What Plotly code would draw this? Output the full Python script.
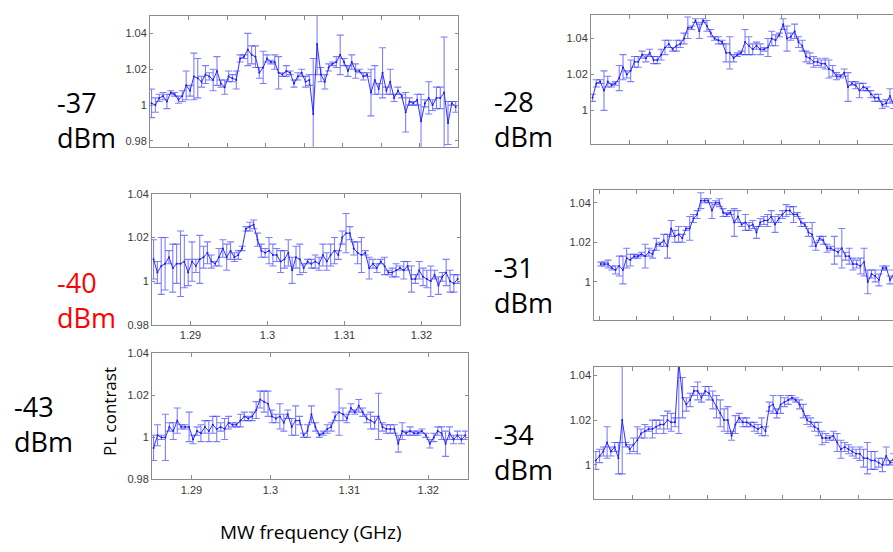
import plotly.graph_objects as go

# Microwave sweep frequencies (GHz), shared by all six power settings
freq_ghz = [
    1.2852, 1.2857, 1.2862, 1.2867, 1.2872, 1.2877, 1.2882, 1.2887, 1.2892, 1.2897,
    1.2902, 1.2907, 1.2912, 1.2917, 1.2922, 1.2927, 1.2932, 1.2937, 1.2942, 1.2947,
    1.2952, 1.2957, 1.2962, 1.2967, 1.2972, 1.2977, 1.2982, 1.2987, 1.2992, 1.2997,
    1.3002, 1.3007, 1.3012, 1.3017, 1.3022, 1.3027, 1.3032, 1.3037, 1.3042, 1.3047,
    1.3052, 1.3057, 1.3062, 1.3067, 1.3072, 1.3077, 1.3082, 1.3087, 1.3092, 1.3097,
    1.3102, 1.3107, 1.3112, 1.3117, 1.3122, 1.3127, 1.3132, 1.3137, 1.3142, 1.3147,
    1.3152, 1.3157, 1.3162, 1.3167, 1.3172, 1.3177, 1.3182, 1.3187, 1.3192, 1.3197,
    1.3202, 1.3207, 1.3212, 1.3217, 1.3222, 1.3227, 1.3232, 1.3237, 1.3242, 1.3247,
]

# PL contrast and its error for each microwave power
pl_m37 = [1.001, 1.000, 1.004, 1.005, 1.002, 1.007, 1.006, 1.003, 1.005, 1.011,
          1.008, 1.016, 1.015, 1.013, 1.017, 1.016, 1.014, 1.019, 1.012, 1.010,
          1.016, 1.015, 1.014, 1.026, 1.027, 1.031, 1.028, 1.027, 1.018, 1.021,
          1.026, 1.024, 1.024, 1.018, 1.017, 1.019, 1.018, 1.012, 1.016, 1.018,
          1.013, 1.014, 0.995, 1.034, 1.017, 1.013, 1.021, 1.023, 1.024, 1.028,
          1.024, 1.019, 1.024, 1.019, 1.019, 1.016, 1.017, 1.007, 1.014, 1.009,
          1.018, 1.008, 1.013, 1.004, 1.008, 1.005, 0.996, 1.002, 1.001, 1.003,
          0.991, 1.001, 1.004, 1.000, 1.004, 1.004, 1.007, 0.990, 1.001, 0.999]
err_m37 = [.008, .004, .002, .002, .004, .001, .001, .002, .003, .008,
           .003, .013, .011, .003, .005, .002, .006, .008, .002, .004,
           .003, .002, .005, .002, .001, .009, .005, .006, .003, .009,
           .002, .001, .004, .009, .001, .003, .001, .002, .002, .002,
           .003, .003, .031, .017, .004, .004, .002, .001, .003, .011,
           .002, .003, .004, .004, .001, .002, .001, .013, .008, .003,
           .014, .002, .007, .002, .002, .001, .011, .002, .001, .003,
           .015, .002, .009, .003, .006, .006, .031, .012, .001, .003]

pl_m40 = [1.010, 1.004, 1.007, 1.008, 1.011, 1.006, 1.008, 1.008, 1.009, 1.004,
          1.009, 1.007, 1.010, 1.011, 1.013, 1.009, 1.008, 1.011, 1.015, 1.011,
          1.014, 1.011, 1.012, 1.015, 1.024, 1.025, 1.026, 1.019, 1.014, 1.013,
          1.014, 1.012, 1.012, 1.009, 1.010, 1.013, 1.005, 1.011, 1.010, 1.006,
          1.009, 1.008, 1.009, 1.008, 1.012, 1.009, 1.012, 1.014, 1.012, 1.020,
          1.022, 1.022, 1.015, 1.013, 1.012, 1.013, 1.006, 1.008, 1.006, 1.009,
          1.007, 1.004, 1.004, 1.005, 1.006, 1.005, 1.007, 1.001, 1.001, 1.005,
          1.002, 1.001, 1.000, 1.003, 0.998, 1.002, 1.004, 1.000, 0.999, 1.001]
err_m40 = [.009, .005, .013, .012, .003, .011, .009, .015, .012, .006,
           .009, .003, .011, .005, .005, .003, .001, .004, .004, .006,
           .004, .002, .002, .001, .001, .002, .002, .003, .003, .002,
           .006, .005, .003, .005, .004, .006, .006, .005, .007, .002,
           .001, .002, .003, .003, .005, .004, .005, .006, .002, .003,
           .009, .003, .003, .005, .008, .001, .005, .002, .002, .001,
           .004, .001, .002, .003, .001, .004, .002, .006, .002, .004,
           .004, .004, .007, .002, .004, .002, .006, .005, .004, .002]

pl_m43 = [0.995, 1.001, 1.000, 1.000, 1.005, 1.003, 1.008, 1.005, 1.005, 1.005,
          0.999, 1.003, 1.002, 1.005, 1.003, 1.006, 1.004, 1.005, 1.004, 1.007,
          1.006, 1.006, 1.008, 1.010, 1.009, 1.010, 1.013, 1.018, 1.017, 1.016,
          1.010, 1.009, 1.010, 1.007, 1.011, 1.005, 1.008, 1.008, 1.001, 1.003,
          1.011, 1.005, 1.001, 1.002, 1.004, 1.005, 1.010, 1.012, 1.011, 1.009,
          1.014, 1.012, 1.015, 1.012, 1.009, 1.008, 1.007, 1.010, 1.005, 1.004,
          1.004, 1.004, 0.997, 1.003, 1.002, 1.003, 1.002, 1.002, 1.003, 1.001,
          0.997, 1.000, 1.003, 1.002, 0.997, 1.002, 0.999, 1.001, 0.999, 1.001]
err_m43 = [.006, .005, .001, .011, .002, .004, .006, .001, .001, .007,
           .002, .002, .004, .003, .005, .004, .006, .002, .005, .003,
           .001, .001, .003, .002, .001, .002, .004, .004, .005, .006,
           .003, .002, .006, .004, .002, .004, .007, .002, .001, .003,
           .004, .002, .001, .001, .002, .002, .002, .011, .003, .002,
           .002, .001, .003, .002, .002, .004, .003, .011, .002, .002,
           .002, .002, .004, .004, .001, .002, .001, .001, .001, .001,
           .002, .002, .002, .003, .006, .003, .002, .002, .002, .002]

pl_m28 = [1.007, 1.015, 1.016, 1.011, 1.016, 1.014, 1.015, 1.018, 1.024, 1.020,
          1.022, 1.027, 1.027, 1.031, 1.029, 1.032, 1.028, 1.028, 1.031, 1.035,
          1.037, 1.034, 1.036, 1.037, 1.040, 1.046, 1.046, 1.050, 1.044, 1.050,
          1.047, 1.043, 1.040, 1.039, 1.038, 1.032, 1.032, 1.029, 1.031, 1.032,
          1.038, 1.036, 1.034, 1.036, 1.034, 1.034, 1.035, 1.040, 1.039, 1.042,
          1.048, 1.040, 1.041, 1.044, 1.038, 1.036, 1.030, 1.029, 1.027, 1.027,
          1.026, 1.026, 1.023, 1.022, 1.019, 1.019, 1.021, 1.013, 1.015, 1.014,
          1.011, 1.013, 1.012, 1.009, 1.007, 1.007, 1.003, 1.004, 1.008, 1.003]
err_m28 = [.002, .002, .001, .011, .003, .001, .001, .007, .007, .002,
           .006, .003, .003, .002, .002, .002, .002, .002, .003, .004,
           .002, .001, .003, .002, .003, .006, .001, .001, .004, .001,
           .003, .002, .001, .002, .001, .005, .009, .002, .001, .001,
           .007, .005, .003, .002, .003, .001, .005, .004, .003, .001,
           .003, .007, .002, .004, .003, .003, .003, .003, .003, .002,
           .002, .003, .005, .003, .002, .001, .002, .008, .001, .002,
           .004, .002, .001, .002, .002, .002, .002, .002, .004, .002]

pl_m31 = [1.009, 1.009, 1.009, 1.007, 1.006, 1.008, 1.006, 1.012, 1.011, 1.013,
          1.013, 1.014, 1.013, 1.015, 1.014, 1.019, 1.019, 1.021, 1.018, 1.027,
          1.023, 1.024, 1.022, 1.027, 1.027, 1.032, 1.034, 1.041, 1.041, 1.041,
          1.036, 1.040, 1.040, 1.035, 1.034, 1.035, 1.030, 1.033, 1.029, 1.030,
          1.028, 1.029, 1.025, 1.030, 1.031, 1.031, 1.033, 1.029, 1.032, 1.034,
          1.036, 1.036, 1.034, 1.034, 1.030, 1.029, 1.025, 1.024, 1.018, 1.022,
          1.021, 1.017, 1.017, 1.016, 1.015, 1.017, 1.013, 1.013, 1.009, 1.009,
          1.008, 1.010, 1.000, 1.004, 1.003, 1.001, 1.007, 1.007, 1.001, 1.004]
err_m31 = [.001, .001, .002, .001, .002, .005, .007, .005, .003, .001,
           .001, .001, .006, .002, .002, .003, .001, .003, .006, .004,
           .003, .004, .002, .001, .006, .002, .002, .004, .001, .001,
           .004, .001, .002, .002, .001, .001, .007, .003, .001, .004,
           .002, .002, .003, .002, .002, .003, .003, .004, .002, .002,
           .003, .002, .004, .001, .002, .001, .002, .006, .002, .001,
           .002, .002, .001, .007, .002, .010, .002, .004, .003, .002,
           .004, .007, .006, .002, .003, .003, .001, .001, .002, .002]

pl_m34 = [1.002, 1.004, 1.006, 1.010, 1.006, 1.008, 1.003, 1.020, 1.009, 1.007,
          1.009, 1.011, 1.014, 1.015, 1.016, 1.016, 1.017, 1.018, 1.018, 1.020,
          1.019, 1.019, 1.046, 1.030, 1.027, 1.029, 1.033, 1.033, 1.030, 1.033,
          1.032, 1.029, 1.026, 1.023, 1.020, 1.020, 1.013, 1.018, 1.021, 1.019,
          1.019, 1.018, 1.017, 1.016, 1.017, 1.015, 1.026, 1.027, 1.023, 1.027,
          1.028, 1.029, 1.030, 1.029, 1.027, 1.024, 1.020, 1.019, 1.017, 1.016,
          1.012, 1.012, 1.012, 1.013, 1.010, 1.007, 1.008, 1.007, 1.006, 1.005,
          1.005, 1.003, 1.003, 1.002, 1.002, 1.001, 1.000, 1.004, 1.001, 1.003]
err_m34 = [.004, .003, .002, .007, .002, .002, .007, .024, .001, .002,
           .003, .006, .002, .003, .001, .004, .003, .002, .004, .004,
           .004, .002, .032, .009, .003, .003, .002, .004, .002, .002,
           .003, .004, .005, .006, .005, .006, .002, .004, .002, .002,
           .002, .001, .002, .002, .004, .002, .002, .004, .002, .004,
           .002, .002, .001, .001, .002, .003, .002, .002, .002, .003,
           .003, .002, .001, .002, .004, .004, .002, .002, .002, .002,
           .003, .004, .007, .004, .004, .002, .003, .004, .001, .002]

power_labels = ["-37", "-40", "-43", "-28", "-31", "-34"]
x_tick_labels = ["1.29", "1.3", "1.31", "1.32"]

series = [pl_m37, pl_m40, pl_m43, pl_m28, pl_m31, pl_m34]
errors = [err_m37, err_m40, err_m43, err_m28, err_m31, err_m34]

W, H = 893, 552


def px_x(p):
    return p / W


def px_y(p):
    return 1 - p / H


# Panel geometry in pixels: (left, right, top, bottom), axis ranges, styling
panels = [
    dict(box=(150, 458, 10, 144), xr=[1.285, 1.325], yr=[0.9767, 1.0498],
         yt=[0.98, 1.0, 1.02, 1.04], xlab=False, dt=0.005, ymirror=True),
    dict(box=(152, 460, 192, 326), xr=[1.285, 1.325], yr=[0.98, 1.04],
         yt=[0.98, 1.0, 1.02, 1.04], xlab=True, dt=0.01, ymirror=True),
    dict(box=(152, 467.7, 355, 484), xr=[1.285, 1.325], yr=[0.98, 1.04],
         yt=[0.98, 1.0, 1.02, 1.04], xlab=True, dt=0.01, ymirror=True),
    dict(box=(591, 893, 9, 141), xr=[1.285, 1.3246], yr=[0.9813, 1.0532],
         yt=[1.0, 1.02, 1.04], xlab=False, dt=0.005, ymirror=False),
    dict(box=(594, 893, 187.7, 320.7), xr=[1.2843, 1.3246], yr=[0.9809, 1.0466],
         yt=[1.0, 1.02, 1.04], xlab=False, dt=0.005, ymirror=False),
    dict(box=(594.3, 893, 369, 503.7), xr=[1.285, 1.3246], yr=[0.9849, 1.0437],
         yt=[1.0, 1.02, 1.04], xlab=False, dt=0.005, ymirror=False),
]

AXIS_GREY = "#8a8a8a"
TICK_FONT = dict(family="Liberation Sans, Arial, sans-serif", size=11, color="#3a3a3a")
LINE_BLUE = "#1a1aff"
BAR_BLUE = "rgba(40,40,255,0.6)"

fig = go.Figure()
layout = {}

for i, (p, y, e) in enumerate(zip(panels, series, errors)):
    n = "" if i == 0 else str(i + 1)
    fig.add_trace(go.Scatter(
        x=freq_ghz, y=y,
        mode="lines+markers",
        line=dict(color=LINE_BLUE, width=0.9),
        marker=dict(color=LINE_BLUE, size=2),
        error_y=dict(type="data", array=e, symmetric=True,
                     color=BAR_BLUE, thickness=1.1, width=3.5),
        xaxis="x" + n, yaxis="y" + n, showlegend=False,
    ))
    l, r, t, b = p["box"]
    layout["xaxis" + n] = dict(
        domain=[px_x(l), min(px_x(r), 1.0)], range=p["xr"], anchor="y" + n,
        showgrid=False, zeroline=False, showline=True, linecolor=AXIS_GREY,
        linewidth=1, mirror="ticks", ticks="inside", ticklen=4,
        tickcolor=AXIS_GREY, tick0=1.29, dtick=p["dt"],
        showticklabels=p["xlab"], tickfont=TICK_FONT,
    )
    if p["xlab"]:
        layout["xaxis" + n].update(
            tickmode="array", tickvals=[float(v) for v in x_tick_labels],
            ticktext=x_tick_labels)
    layout["yaxis" + n] = dict(
        domain=[px_y(b), px_y(t)], range=p["yr"], anchor="x" + n,
        showgrid=False, zeroline=False, showline=True, linecolor=AXIS_GREY,
        linewidth=1, mirror="ticks" if p["ymirror"] else False,
        ticks="inside", ticklen=3, tickcolor=AXIS_GREY,
        tickmode="array", tickvals=p["yt"],
        ticktext=[("%g" % v) for v in p["yt"]], tickfont=TICK_FONT,
    )

# Microwave power labels beside each panel (two lines: value, unit)
LABEL_FONT = "Open Sans, sans-serif"
label_pos = [
    (55, 117, "black"),
    (55, 301, "red"),
    (12, 427, "black"),
    (492, 115, "black"),
    (492, 285, "black"),
    (492, 456, "black"),
]
annotations = []
for text, (lx, cy, col) in zip(power_labels, label_pos):
    annotations.append(dict(
        text=text + "<br>dBm", x=px_x(lx), y=px_y(cy), xref="paper", yref="paper",
        xanchor="left", yanchor="middle", align="left", showarrow=False,
        font=dict(family=LABEL_FONT, size=27, color=col),
    ))

annotations.append(dict(
    text="PL contrast", x=px_x(110), y=px_y(415), xref="paper", yref="paper",
    xanchor="center", yanchor="middle", textangle=-90, showarrow=False,
    font=dict(family=LABEL_FONT, size=17, color="black"),
))
annotations.append(dict(
    text="MW frequency (GHz)", x=px_x(310), y=px_y(538), xref="paper", yref="paper",
    xanchor="center", yanchor="middle", showarrow=False,
    font=dict(family=LABEL_FONT, size=19, color="black"),
))

fig.update_layout(
    width=W, height=H, margin=dict(l=0, r=0, t=0, b=0),
    paper_bgcolor="white", plot_bgcolor="white",
    annotations=annotations, **layout,
)

fig.write_html("out.html")
